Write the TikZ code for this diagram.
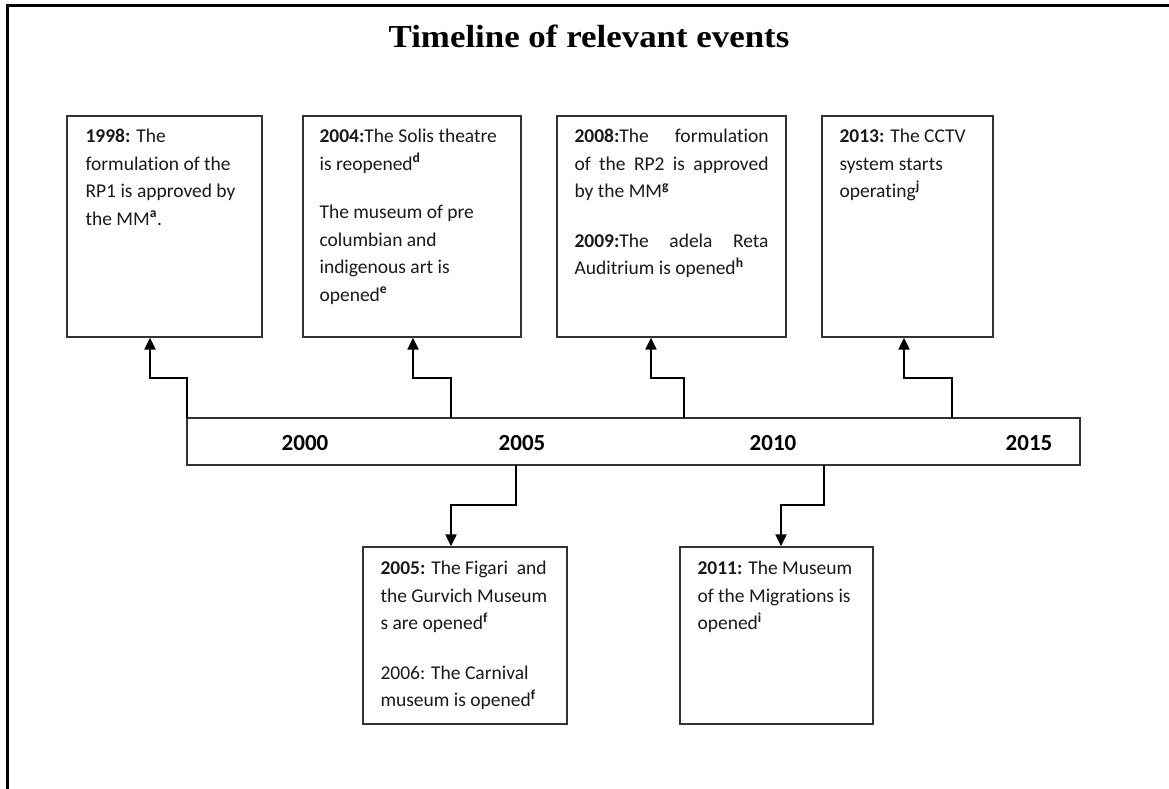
\documentclass[tikz,border=0pt]{standalone}
\usepackage{fontspec}
\setmainfont{Carlito}[RawFeature=-liga]
\newfontfamily\titlefont{Liberation Serif}
\usetikzlibrary{arrows.meta}
\definecolor{boxgray}{HTML}{333333}
\definecolor{txt}{HTML}{1A1A1A}
\tikzset{
  evbox/.style={draw=boxgray, line width=1.3pt, fill=white, rectangle, inner sep=0pt},
  evtext/.style={anchor=north west, inner sep=0pt, align=left, text=txt,
    font=\fontsize{19.5}{27.5}\selectfont},
  conn/.style={draw=black, line width=2pt, -{Triangle[length=12pt,width=11pt]}},
  yearlbl/.style={font=\fontsize{23}{27}\selectfont\bfseries, inner sep=0pt, text=black},
  frame/.style={draw=black, line width=2.4pt},
}
\newcommand{\sps}[1]{\textsuperscript{\bfseries #1}}
\begin{document}
\begin{tikzpicture}[x=1pt,y=-1pt]
\useasboundingbox (0,0) rectangle (1169,789);
% outer frame (top and left only)
\draw[frame] (7.5,789) -- (7.5,5.5) -- (1169,5.5);
% title
\node[anchor=base, inner sep=0pt] (title) at (589,48)
  {\titlefont\bfseries\fontsize{32}{36}\selectfont\scalebox{1.09}[1]{Timeline of relevant events}};
% timeline bar
\node[evbox, minimum width=893pt, minimum height=47pt] (bar) at (633.5,441.5) {};
\node[yearlbl] (y2000) at (305,443) {2000};
\node[yearlbl] (y2005) at (522,443) {2005};
\node[yearlbl] (y2010) at (773,443) {2010};
\node[yearlbl] (y2015) at (1029,443) {2015};
% upper boxes
\node[evbox, minimum width=195pt, minimum height=221pt] (b1) at (164.5,226.5) {};
\node[evbox, minimum width=218pt, minimum height=221pt] (b2) at (412,226.5) {};
\node[evbox, minimum width=229pt, minimum height=221pt] (b3) at (671.5,226.5) {};
\node[evbox, minimum width=171pt, minimum height=221pt] (b4) at (907.5,226.5) {};
% lower boxes
\node[evbox, minimum width=204pt, minimum height=177pt] (b5) at (465,635.5) {};
\node[evbox, minimum width=193pt, minimum height=177pt] (b6) at (776.5,635.5) {};
% texts
\node[evtext] (t1) at ([xshift=19pt,yshift=-7.75pt]b1.north west)
  {\strut\textbf{1998:} The\\formulation of the\\RP1 is approved by\\the MM\sps{a}.};
\node[evtext] (t2) at ([xshift=17pt,yshift=-7.75pt]b2.north west)
  {\strut\textbf{2004:}The Solis theatre\\is reopened\sps{d}\\[21pt]The museum of pre\\columbian and\\indigenous art is\\opened\sps{e}};
\node[evtext] (t3) at ([xshift=18pt,yshift=-7.75pt]b3.north west)
  {\strut\makebox[194pt][s]{\textbf{2008:}The formulation}\\\makebox[194pt][s]{of the RP2 is approved}\\by the MM\sps{g}\\[22pt]\makebox[194pt][s]{\textbf{2009:}The adela Reta}\\Auditrium is opened\sps{h}};
\node[evtext] (t4) at ([xshift=18pt,yshift=-7.75pt]b4.north west)
  {\strut\textbf{2013:} The CCTV\\system starts\\operating\sps{j}};
\node[evtext] (t5) at ([xshift=18pt,yshift=-8.75pt]b5.north west)
  {\strut\textbf{2005:} The Figari\ \ and\\the Gurvich Museum\\s are opened\sps{f}\\[22pt]2006: The Carnival\\museum is opened\sps{f}};
\node[evtext] (t6) at ([xshift=18pt,yshift=-8.75pt]b6.north west)
  {\strut\textbf{2011:} The Museum\\of the Migrations is\\opened\sps{i}};
% connector points
\coordinate (s1) at (187,418);  \coordinate (e1) at (150,378);
\coordinate (s2) at (451,418);  \coordinate (e2) at (413,378);
\coordinate (s3) at (684,418);  \coordinate (e3) at (651,378);
\coordinate (s4) at (952,418);  \coordinate (e4) at (904,378);
\coordinate (s5) at (516,465);  \coordinate (e5) at (451,505);
\coordinate (s6) at (824,465);  \coordinate (e6) at (781,505);
% connectors
\draw[conn] (s1) |- (e1) -- (b1.south -| e1);
\draw[conn] (s2) |- (e2) -- (b2.south -| e2);
\draw[conn] (s3) |- (e3) -- (b3.south -| e3);
\draw[conn] (s4) |- (e4) -- (b4.south -| e4);
\draw[conn] (s5) |- (e5) -- (b5.north -| e5);
\draw[conn] (s6) |- (e6) -- (b6.north -| e6);
\end{tikzpicture}
\end{document}
